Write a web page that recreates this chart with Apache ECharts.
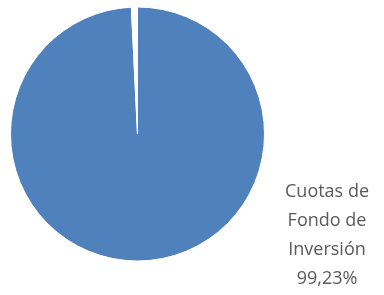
<!DOCTYPE html>
<html><head><meta charset="utf-8">
<script src="https://cdn.jsdelivr.net/npm/echarts@6/dist/echarts.min.js"></script>
<style>html,body{margin:0;padding:0;background:#fff}#c{width:384px;height:295px}</style>
</head><body><div id="c"></div>
<script>
const categories = ["Cuotas de\nFondo de\nInversión", "Otros"];
const values = [99.23, 0.77];
const labels = ["99,23%", ""];
const chart = echarts.init(document.getElementById('c'), null, {renderer:'canvas'});
chart.setOption({
  animation:false,
  series:[{
    type:'pie',
    center:[137.5,134],
    radius:127,
    startAngle:90,
    clockwise:true,
    data: categories.map((c,i)=>({
      name:c, value:values[i],
      itemStyle: i===0 ? {color:'#4F81BD'} : {color:'#ffffff'},
      label: i===0 ? {show:true} : {show:false},
      labelLine:{show:false}
    })),
    itemStyle:{borderColor:'#ffffff', borderWidth:1},
    label:{
      position:'outside',
      formatter:(p)=>p.name+'\n'+labels[p.dataIndex],
      color:'#595959',
      fontFamily:'Open Sans',
      fontSize:18,
      lineHeight:29,
      align:'center'
    },
    labelLine:{show:false},
    labelLayout:{x:327, y:235, align:'center', verticalAlign:'middle'}
  }]
});
</script></body></html>
